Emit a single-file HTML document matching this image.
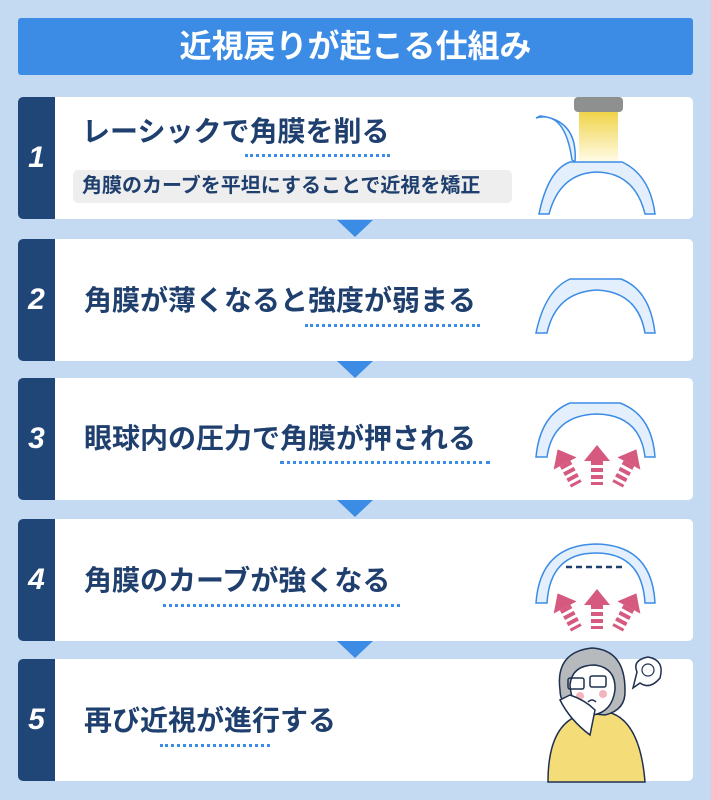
<!DOCTYPE html>
<html><head><meta charset="utf-8"><style>
body{margin:0;width:711px;height:800px;background:#c4daf3;position:relative;overflow:hidden;font-family:"Liberation Sans","Noto Sans CJK JP",sans-serif;}
.title{position:absolute;left:18px;top:18px;width:675px;height:57px;background:#3c8ce6;color:#fff;font-size:32px;font-weight:bold;text-align:center;line-height:57px;border-radius:3px}
.card{position:absolute;left:18px;width:675px;height:122px;background:#fff;border-radius:5px;overflow:hidden}
.num{position:absolute;left:0;top:0;width:37px;height:100%;background:#1f4677;color:#fff;font-size:30px;font-style:italic;font-weight:bold;display:flex;align-items:center;justify-content:center}
.t{position:absolute;color:#1f3f6e;font-size:28px;font-weight:bold;white-space:nowrap;line-height:34px}
.dot{position:absolute;height:0;border-top:3px dotted #3c8ce6}
.tri{position:absolute;left:337px;width:0;height:0;border-left:18px solid transparent;border-right:18px solid transparent;border-top:17px solid #3c8ce6}
svg{position:absolute;left:0;top:0}
</style></head><body>
<div class="title">近視戻りが起こる仕組み</div>

<div class="card" style="top:97px"><div class="num">1</div></div>
<div class="card" style="top:239px"><div class="num">2</div></div>
<div class="card" style="top:378px"><div class="num">3</div></div>
<div class="card" style="top:519px"><div class="num">4</div></div>
<div class="card" style="top:659px"><div class="num">5</div></div>

<div class="tri" style="top:220px"></div>
<div class="tri" style="top:361px"></div>
<div class="tri" style="top:500px"></div>
<div class="tri" style="top:641px"></div>

<div class="t" style="left:82px;top:115px">レーシックで角膜を削る</div>
<div class="dot" style="left:245px;width:145px;top:154px"></div>
<div style="position:absolute;left:73px;top:170px;width:439px;height:33px;background:#eeeeee;border-radius:5px;color:#1f3f6e;font-size:20px;font-weight:bold;line-height:33px;padding-left:9px;box-sizing:border-box;white-space:nowrap">角膜のカーブを平坦にすることで近視を矯正</div>

<div class="t" style="left:84px;top:284px">角膜が薄くなると強度が弱まる</div>
<div class="dot" style="left:305px;width:175px;top:324px"></div>
<div class="t" style="left:84px;top:422px">眼球内の圧力で角膜が押される</div>
<div class="dot" style="left:280px;width:210px;top:461px"></div>
<div class="t" style="left:84px;top:564px">角膜のカーブが強くなる</div>
<div class="dot" style="left:163px;width:237px;top:604px"></div>
<div class="t" style="left:84px;top:704px">再び近視が進行する</div>
<div class="dot" style="left:160px;width:110px;top:744px"></div>

<svg width="711" height="800" viewBox="0 0 711 800">
<defs><linearGradient id="y" x1="0" y1="0" x2="0" y2="1"><stop offset="0" stop-color="#f0d44a"/><stop offset="1" stop-color="#fffbe8"/></linearGradient>
<g id="a" fill="#d65a7f"><polygon points="0,-20 -13,-4 13,-4"/><rect x="-6" y="-4" width="12" height="4"/><rect x="-6" y="3" width="12" height="4"/><rect x="-6" y="10" width="12" height="4"/><rect x="-6" y="17" width="12" height="3"/></g>
</defs>
<!-- row1 -->
<rect x="574" y="97" width="49" height="15" rx="4" fill="#8e9090"/>
<rect x="579" y="112" width="39" height="50" fill="url(#y)"/>
<path d="M536,118 Q565,110 572,160 L575,162 Q578,120 540,116 Z" fill="#e3effc" stroke="#3c8ce6" stroke-width="1.5"/>
<path d="M539,214 Q548,170 570,162 L622,162 Q650,175 655,214 L645,214 Q635,173 597,172 Q560,173 549,214 Z" fill="#e3effc" stroke="#3c8ce6" stroke-width="1.5"/>
<!-- row2 -->
<path d="M536,333 Q545,290 570,279 L621,279 Q650,290 655,333 L645,333 Q638,292 597,290 Q556,292 547,333 Z" fill="#e3effc" stroke="#3c8ce6" stroke-width="1.5"/>
<!-- row3 -->
<path d="M536,457 Q540,415 570,403 L620,403 Q652,415 655,457 L645,457 Q640,415 597,414 Q553,415 547,457 Z" fill="#e3effc" stroke="#3c8ce6" stroke-width="1.5"/>
<!-- row4 -->
<path d="M536,603 Q540,545 596,544 Q652,545 655,603 L645,603 Q642,553 596,553 Q550,553 547,603 Z" fill="#e3effc" stroke="#3c8ce6" stroke-width="1.5"/>
<line x1="566" y1="567" x2="625" y2="567" stroke="#1f3f6e" stroke-width="2.5" stroke-dasharray="6,4"/>
<!-- arrows -->
<use href="#a" transform="translate(597,465)"/>
<use href="#a" transform="translate(567,467) rotate(-28)"/>
<use href="#a" transform="translate(627,467) rotate(28)"/>
<use href="#a" transform="translate(597,609)"/>
<use href="#a" transform="translate(567,611) rotate(-28)"/>
<use href="#a" transform="translate(627,611) rotate(28)"/>
<!-- person -->
<path d="M548,782 Q548,725 580,715 L608,712 Q640,720 645,782 Z" fill="#f4dc78" stroke="#1f3050" stroke-width="1.5"/>
<path d="M560,690 Q555,652 592,648 Q625,650 625,690 Q626,710 605,715 L575,712 Q560,705 560,690 Z" fill="#b6babd" stroke="#1f3050" stroke-width="1.5"/>
<path d="M570,685 Q572,665 595,665 Q616,668 615,690 Q612,712 593,715 Q572,712 570,685 Z" fill="#fff" stroke="#1f3050" stroke-width="1.5"/>
<rect x="568" y="678" width="16" height="11" rx="2" fill="none" stroke="#1f3050" stroke-width="1.5"/>
<rect x="590" y="676" width="16" height="11" rx="2" fill="none" stroke="#1f3050" stroke-width="1.5"/>
<circle cx="580" cy="696" r="4" fill="#f2b5bd"/><circle cx="603" cy="694" r="4" fill="#f2b5bd"/>
<path d="M588,702 Q592,698 596,702" fill="none" stroke="#1f3050" stroke-width="1.5"/>
<path d="M560,700 Q570,720 590,735 L595,710 Q585,700 570,695 Z" fill="#fff" stroke="#1f3050" stroke-width="1.5"/>
<path d="M637,672 Q632,660 648,657 Q665,660 660,678 Q650,690 640,683 L633,688 Z" fill="#fff" stroke="#1f3050" stroke-width="1.5"/>
<circle cx="648" cy="670" r="6" fill="none" stroke="#1f3050" stroke-width="1.2"/>
</svg>
</body></html>
